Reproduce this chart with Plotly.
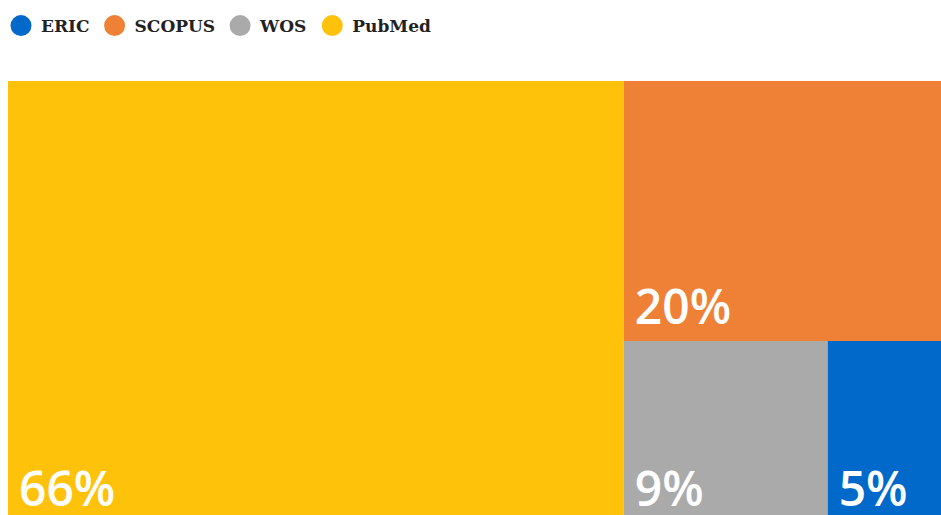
import plotly.graph_objects as go

# Data
root_label = "Total"
labels = ["PubMed", "SCOPUS", "WOS", "ERIC"]
values = [66, 20, 9, 5]
legend_order = ["ERIC", "SCOPUS", "WOS", "PubMed"]
colors = {"PubMed": "#FFC20A", "SCOPUS": "#EF8136", "WOS": "#AAAAAA", "ERIC": "#0069CA"}

W, H = 941, 523  # 8px extra below the 515 window so the tile labels sit near the bottom edge

fig = go.Figure()

fig.add_trace(go.Treemap(
    labels=[root_label] + labels,
    parents=[""] + [root_label] * len(labels),
    values=[sum(values)] + values,
    branchvalues="total",
    sort=True,
    marker=dict(colors=["white"] + [colors[l] for l in labels], line=dict(width=0),
                pad=dict(t=0, l=0, r=0, b=0)),
    tiling=dict(packing="squarify", pad=0),
    pathbar=dict(visible=False),
    texttemplate=[""] + ["\u2009%{value}%"] * len(labels),
    textposition="bottom left",
    textfont=dict(family="Open Sans", size=48, color="white", weight=600),
    hoverinfo="skip",
    domain=dict(x=[8 / W, 1], y=[0, (H - 81) / H]),
))

for name in legend_order:
    fig.add_trace(go.Scatter(
        x=[None], y=[None], mode="markers", name=name,
        marker=dict(symbol="circle", size=16, color=colors[name],
                    line=dict(width=5, color=colors[name])),
        hoverinfo="skip",
    ))

fig.update_layout(
    width=W, height=H,
    margin=dict(l=0, r=0, t=0, b=0, autoexpand=False),
    paper_bgcolor="white",
    plot_bgcolor="white",
    xaxis=dict(visible=False),
    yaxis=dict(visible=False),
    showlegend=True,
    legend=dict(
        orientation="h", x=1 / W, y=1 - 8 / H, xanchor="left", yanchor="top",
        font=dict(family="DejaVu Serif", size=17, color="#222222", weight="bold"),
        itemsizing="trace",
        bgcolor="rgba(0,0,0,0)",
        traceorder="normal",
    ),
)

fig.write_html(
    "out.html",
    config={"displayModeBar": False},
    post_script="document.body.style.margin='0';"
                "document.body.style.overflow='hidden';"
                "document.documentElement.style.overflow='hidden';",
)
